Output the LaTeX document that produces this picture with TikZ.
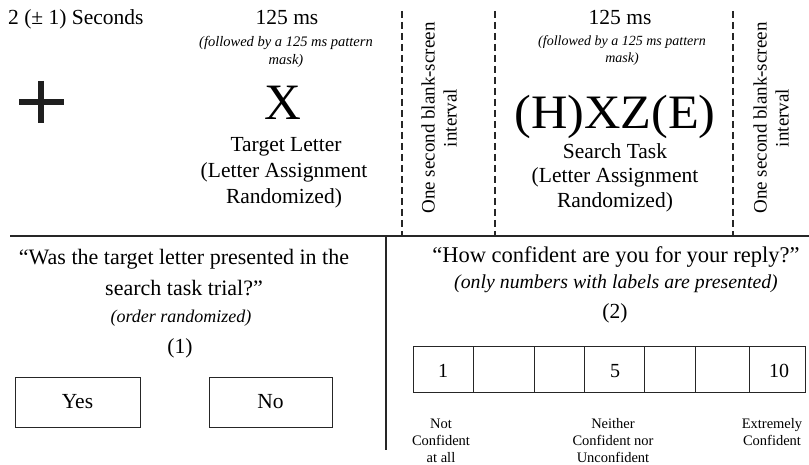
\documentclass[tikz,border=0pt]{standalone}
\usepackage{fontspec}
\usepackage{graphicx}
\setmainfont{Liberation Serif}
\begin{document}
\begin{tikzpicture}[x=1pt,y=-1pt,
  lbl/.style={inner sep=0pt, anchor=base, font=\fontsize{21.5}{26}\selectfont},
  note/.style={inner sep=0pt, anchor=base, font=\fontsize{14.5}{18}\selectfont\itshape},
  big/.style={inner sep=0pt, anchor=base, font=\fontsize{51}{51}\selectfont},
  rot/.style={inner sep=0pt, rotate=90, align=center, font=\fontsize{19}{22}\selectfont},
  small/.style={inner sep=0pt, anchor=base, font=\fontsize{14.5}{17}\selectfont},
  sep/.style={line width=1.8pt, draw=black!85},
  dsep/.style={line width=1.5pt, draw=black!85, dash pattern=on 7pt off 4pt},
  vsep/.style={line width=1.2pt, draw=black!85},
  cell/.style={line width=1pt, draw=black!85},
  plusbar/.style={line width=6pt, draw=black!88}]
\useasboundingbox (0,0) rectangle (809,465);

% separators
\coordinate (hl) at (10,236);
\coordinate (hr) at (809,236);
\draw[sep] (hl) -- (hr);
\coordinate (d1t) at (402,11);  \coordinate (d1b) at (402,236);
\coordinate (d2t) at (495,11);  \coordinate (d2b) at (495,236);
\coordinate (d3t) at (733,11);  \coordinate (d3b) at (733,236);
\draw[dsep] (d1t) -- (d1b);
\draw[dsep] (d2t) -- (d2b);
\draw[dsep] (d3t) -- (d3b);
\coordinate (vt) at (386,236); \coordinate (vb) at (386,450);
\draw[vsep] (vt) -- (vb);

% fixation
\node[lbl, anchor=base west] (sec) at (8,25) {2 (± 1) Seconds};
\coordinate (ph1) at (19,102); \coordinate (ph2) at (64,102);
\coordinate (pv1) at (41,81);  \coordinate (pv2) at (41,123);
\draw[plusbar] (ph1) -- (ph2);
\draw[plusbar] (pv1) -- (pv2);

% target letter column
\node[lbl] (t1) at (287,25) {125 ms};
\node[note] (f1a) at (286,47) {(followed by a 125 ms pattern};
\node[note] (f1b) at (286,65) {mask)};
\node[big] (X) at (283,120) {X};
\node[lbl] (tl1) at (286,152) {Target Letter};
\node[lbl] (tl2) at (284,178) {(Letter Assignment};
\node[lbl] (tl3) at (284,204) {Randomized)};

% blank intervals
\node[rot] (b1) at (439,118) {One second blank-screen\\interval};
\node[rot] (b2) at (771,118) {One second blank-screen\\interval};

% search column
\node[lbl] (t2) at (620,25) {125 ms};
\node[note, font=\fontsize{14}{18}\selectfont\itshape] (f2a) at (622,46) {(followed by a 125 ms pattern};
\node[note, font=\fontsize{14}{18}\selectfont\itshape] (f2b) at (622,63) {mask)};
\node[big, font=\fontsize{48}{48}\selectfont] (HXZE) at (615,129) {\scalebox{1.05}[1]{(H)XZ(E)}};
\node[lbl] (st1) at (615,159) {Search Task};
\node[lbl] (st2) at (615,183) {(Letter Assignment};
\node[lbl] (st3) at (615,208) {Randomized)};

% question 1
\node[lbl, font=\fontsize{22}{26}\selectfont] (q1a) at (184,265) {“Was the target letter presented in the};
\node[lbl, font=\fontsize{22}{26}\selectfont] (q1b) at (184,296) {search task trial?”};
\node[note, font=\fontsize{18}{22}\selectfont\itshape] (q1c) at (181,322) {(order randomized)};
\node[lbl] (q1n) at (180,353) {(1)};
\node[cell, lbl, anchor=center, minimum width=125pt, minimum height=50pt] (yes) at (77.5,402) {Yes};
\node[cell, lbl, anchor=center, minimum width=123pt, minimum height=50pt] (no) at (270.5,402) {No};

% question 2
\node[lbl, font=\fontsize{22.5}{26}\selectfont] (q2a) at (616,262) {“How confident are you for your reply?”};
\node[note, font=\fontsize{19.8}{22}\selectfont\itshape] (q2b) at (616,289) {(only numbers with labels are presented)};
\node[lbl] (q2n) at (615,318) {(2)};

% scale
\foreach \xa/\xb in {413/473,473/534,534/584,584/644,644/695,695/749,749/805}{
  \draw[cell] (\xa,346) rectangle (\xb,392);
}
\node[lbl, font=\fontsize{20}{24}\selectfont] (n1) at (443,377) {1};
\node[lbl, font=\fontsize{20}{24}\selectfont] (n5) at (615,377) {5};
\node[lbl, font=\fontsize{20}{24}\selectfont] (n10) at (779,377) {10};

\node[small] (la1) at (441,428) {Not};
\node[small] (la2) at (441,445) {Confident};
\node[small] (la3) at (441,462) {at all};
\node[small] (lb1) at (613,428) {Neither};
\node[small] (lb2) at (613,445) {Confident nor};
\node[small] (lb3) at (613,462) {Unconfident};
\node[small] (lc1) at (772,428) {Extremely};
\node[small] (lc2) at (772,445) {Confident};
\end{tikzpicture}
\end{document}
